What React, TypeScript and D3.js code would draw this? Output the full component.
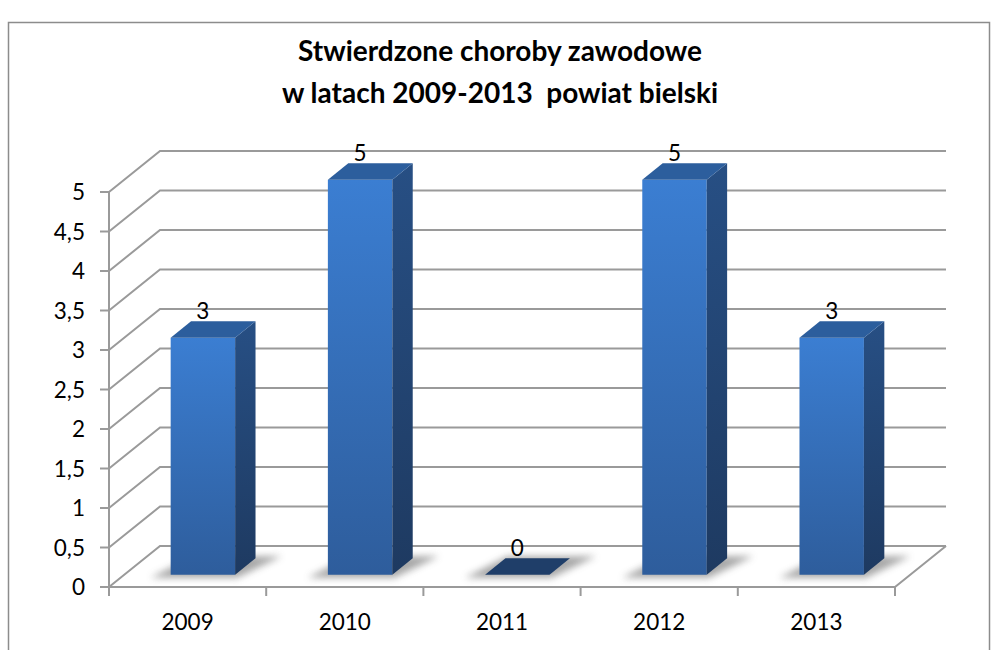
import React from "react";
import * as d3 from "d3";

// Chart data
const categories = ["2009", "2010", "2011", "2012", "2013"];
const values = [3, 5, 0, 5, 3];
const yTicks = [0, 0.5, 1, 1.5, 2, 2.5, 3, 3.5, 4, 4.5, 5];
const titleLines = ["Stwierdzone choroby zawodowe", "w latach 2009-2013  powiat bielski"];

const W = 992;
const H = 650;
const FONT = "Lato, 'Open Sans', sans-serif";

// 3D frame geometry
const plotLeft = 109;
const plotRight = 895;
const floorY = 587;
const depthX = 51;
const depthY = 41;

const xScale = d3.scaleBand<string>().domain(categories).range([plotLeft, plotRight]);
const yScale = d3.scaleLinear().domain([0, 5]).range([0, 395]);

// project (x on front plane, value, depth fraction 0..1) to screen coordinates
const proj = (x: number, v: number, d: number): [number, number] => [
  x + d * depthX,
  floorY - yScale(v) - d * depthY,
];
const poly = (pts: [number, number][]) => pts.map((p) => p.join(",")).join(" ");
const fmt = (v: number) => String(v).replace(".", ",");

export default function App() {
  const barW = xScale.bandwidth() * 0.41;
  const dFront = 0.3;
  const dBack = 0.7;
  const gridColor = "#9a9a9a";
  const labelSize = 22.5;

  return (
    <svg
      width={W}
      height={H}
      style={{ position: "absolute", left: 0, top: 0, background: "#fff" }}
    >
      <defs>
        <linearGradient id="frontGrad" x1="0" y1="0" x2="0" y2="1">
          <stop offset="0" stopColor="#3b7ed2" />
          <stop offset="1" stopColor="#2e5d9c" />
        </linearGradient>
        <linearGradient id="sideGrad" x1="0" y1="0" x2="0" y2="1">
          <stop offset="0" stopColor="#274f84" />
          <stop offset="1" stopColor="#1e3a61" />
        </linearGradient>
        <filter id="shadowBlur" x="-30%" y="-100%" width="160%" height="300%">
          <feGaussianBlur stdDeviation="3.5" />
        </filter>
      </defs>

      <rect x={8.5} y={22.5} width={981} height={640} fill="#fff" stroke="#8c8c8c" strokeWidth={1.5} />

      {titleLines.map((t, i) => (
        <text
          key={i}
          x={500}
          y={61 + i * 42}
          textAnchor="middle"
          fontFamily={FONT}
          fontWeight="bold"
          fontSize={28}
          fill="#000"
          style={{ whiteSpace: "pre" }}
        >
          {t}
        </text>
      ))}

      {/* gridlines: side wall diagonal + back wall horizontal */}
      {yTicks.map((v) => {
        const a = proj(plotLeft, v, 0);
        const b = proj(plotLeft, v, 1);
        const c = proj(plotRight, v, 1);
        return (
          <polyline
            key={v}
            points={poly([a, b, c])}
            fill="none"
            stroke={gridColor}
            strokeWidth={2}
          />
        );
      })}

      {/* floor front and right edges */}
      <polyline
        points={poly([proj(plotLeft, 0, 0), proj(plotRight, 0, 0), proj(plotRight, 0, 1)])}
        fill="none"
        stroke={gridColor}
        strokeWidth={2}
      />

      {/* vertical axis */}
      <line x1={plotLeft} x2={plotLeft} y1={proj(0, 5, 0)[1]} y2={floorY} stroke={gridColor} strokeWidth={2} />
      {yTicks.map((v) => {
        const y = proj(0, v, 0)[1];
        return (
          <g key={"yt" + v}>
            <line x1={plotLeft - 9} x2={plotLeft} y1={y} y2={y} stroke={gridColor} strokeWidth={2} />
            <text
              x={85}
              y={y}
              dy="0.36em"
              textAnchor="end"
              fontFamily={FONT}
              fontSize={labelSize}
              fill="#000"
            >
              {fmt(v)}
            </text>
          </g>
        );
      })}

      {/* category ticks */}
      {[...categories.map((c) => xScale(c) as number), plotRight].map((x, i) => (
        <line key={"xt" + i} x1={x} x2={x} y1={floorY} y2={floorY + 9} stroke={gridColor} strokeWidth={2} />
      ))}
      {categories.map((c) => (
        <text
          key={"xl" + c}
          x={(xScale(c) as number) + xScale.bandwidth() / 2}
          y={630}
          textAnchor="middle"
          fontFamily={FONT}
          fontSize={labelSize}
          fill="#000"
        >
          {c}
        </text>
      ))}

      {/* bars */}
      {categories.map((c, i) => {
        const v = values[i];
        const cx = (xScale(c) as number) + xScale.bandwidth() / 2;
        const x0 = cx - barW / 2;
        const x1 = cx + barW / 2;
        const fbl = proj(x0, 0, dFront);
        const fbr = proj(x1, 0, dFront);
        const ftl = proj(x0, v, dFront);
        const ftr = proj(x1, v, dFront);
        const bbr = proj(x1, 0, dBack);
        const btl = proj(x0, v, dBack);
        const btr = proj(x1, v, dBack);
        const bbl = proj(x0, 0, dBack);
        const shadow: [number, number][] = [
          [fbl[0] - 20, fbl[1] + 3],
          [fbr[0] + 2, fbr[1] + 3],
          [bbr[0] + 26, bbr[1] - 2],
          [bbl[0] + 2, bbl[1] - 2],
        ];
        const labelX = (ftl[0] + ftr[0]) / 2;
        const labelY = btl[1] - 2;
        return (
          <g key={"bar" + c}>
            <polygon points={poly(shadow)} fill="#8a8a8a" opacity={0.75} filter="url(#shadowBlur)" />
            {v > 0 ? (
              <>
                <polygon points={poly([fbl, fbr, ftr, ftl])} fill="url(#frontGrad)" />
                <polygon points={poly([fbr, bbr, btr, ftr])} fill="url(#sideGrad)" />
                <polygon points={poly([ftl, ftr, btr, btl])} fill="#2c5e9d" />
              </>
            ) : (
              <polygon points={poly([ftl, ftr, btr, btl])} fill="#1f3e69" />
            )}
            <text
              x={labelX}
              y={labelY}
              textAnchor="middle"
              fontFamily={FONT}
              fontSize={labelSize}
              fill="#000"
            >
              {v}
            </text>
          </g>
        );
      })}
    </svg>
  );
}
